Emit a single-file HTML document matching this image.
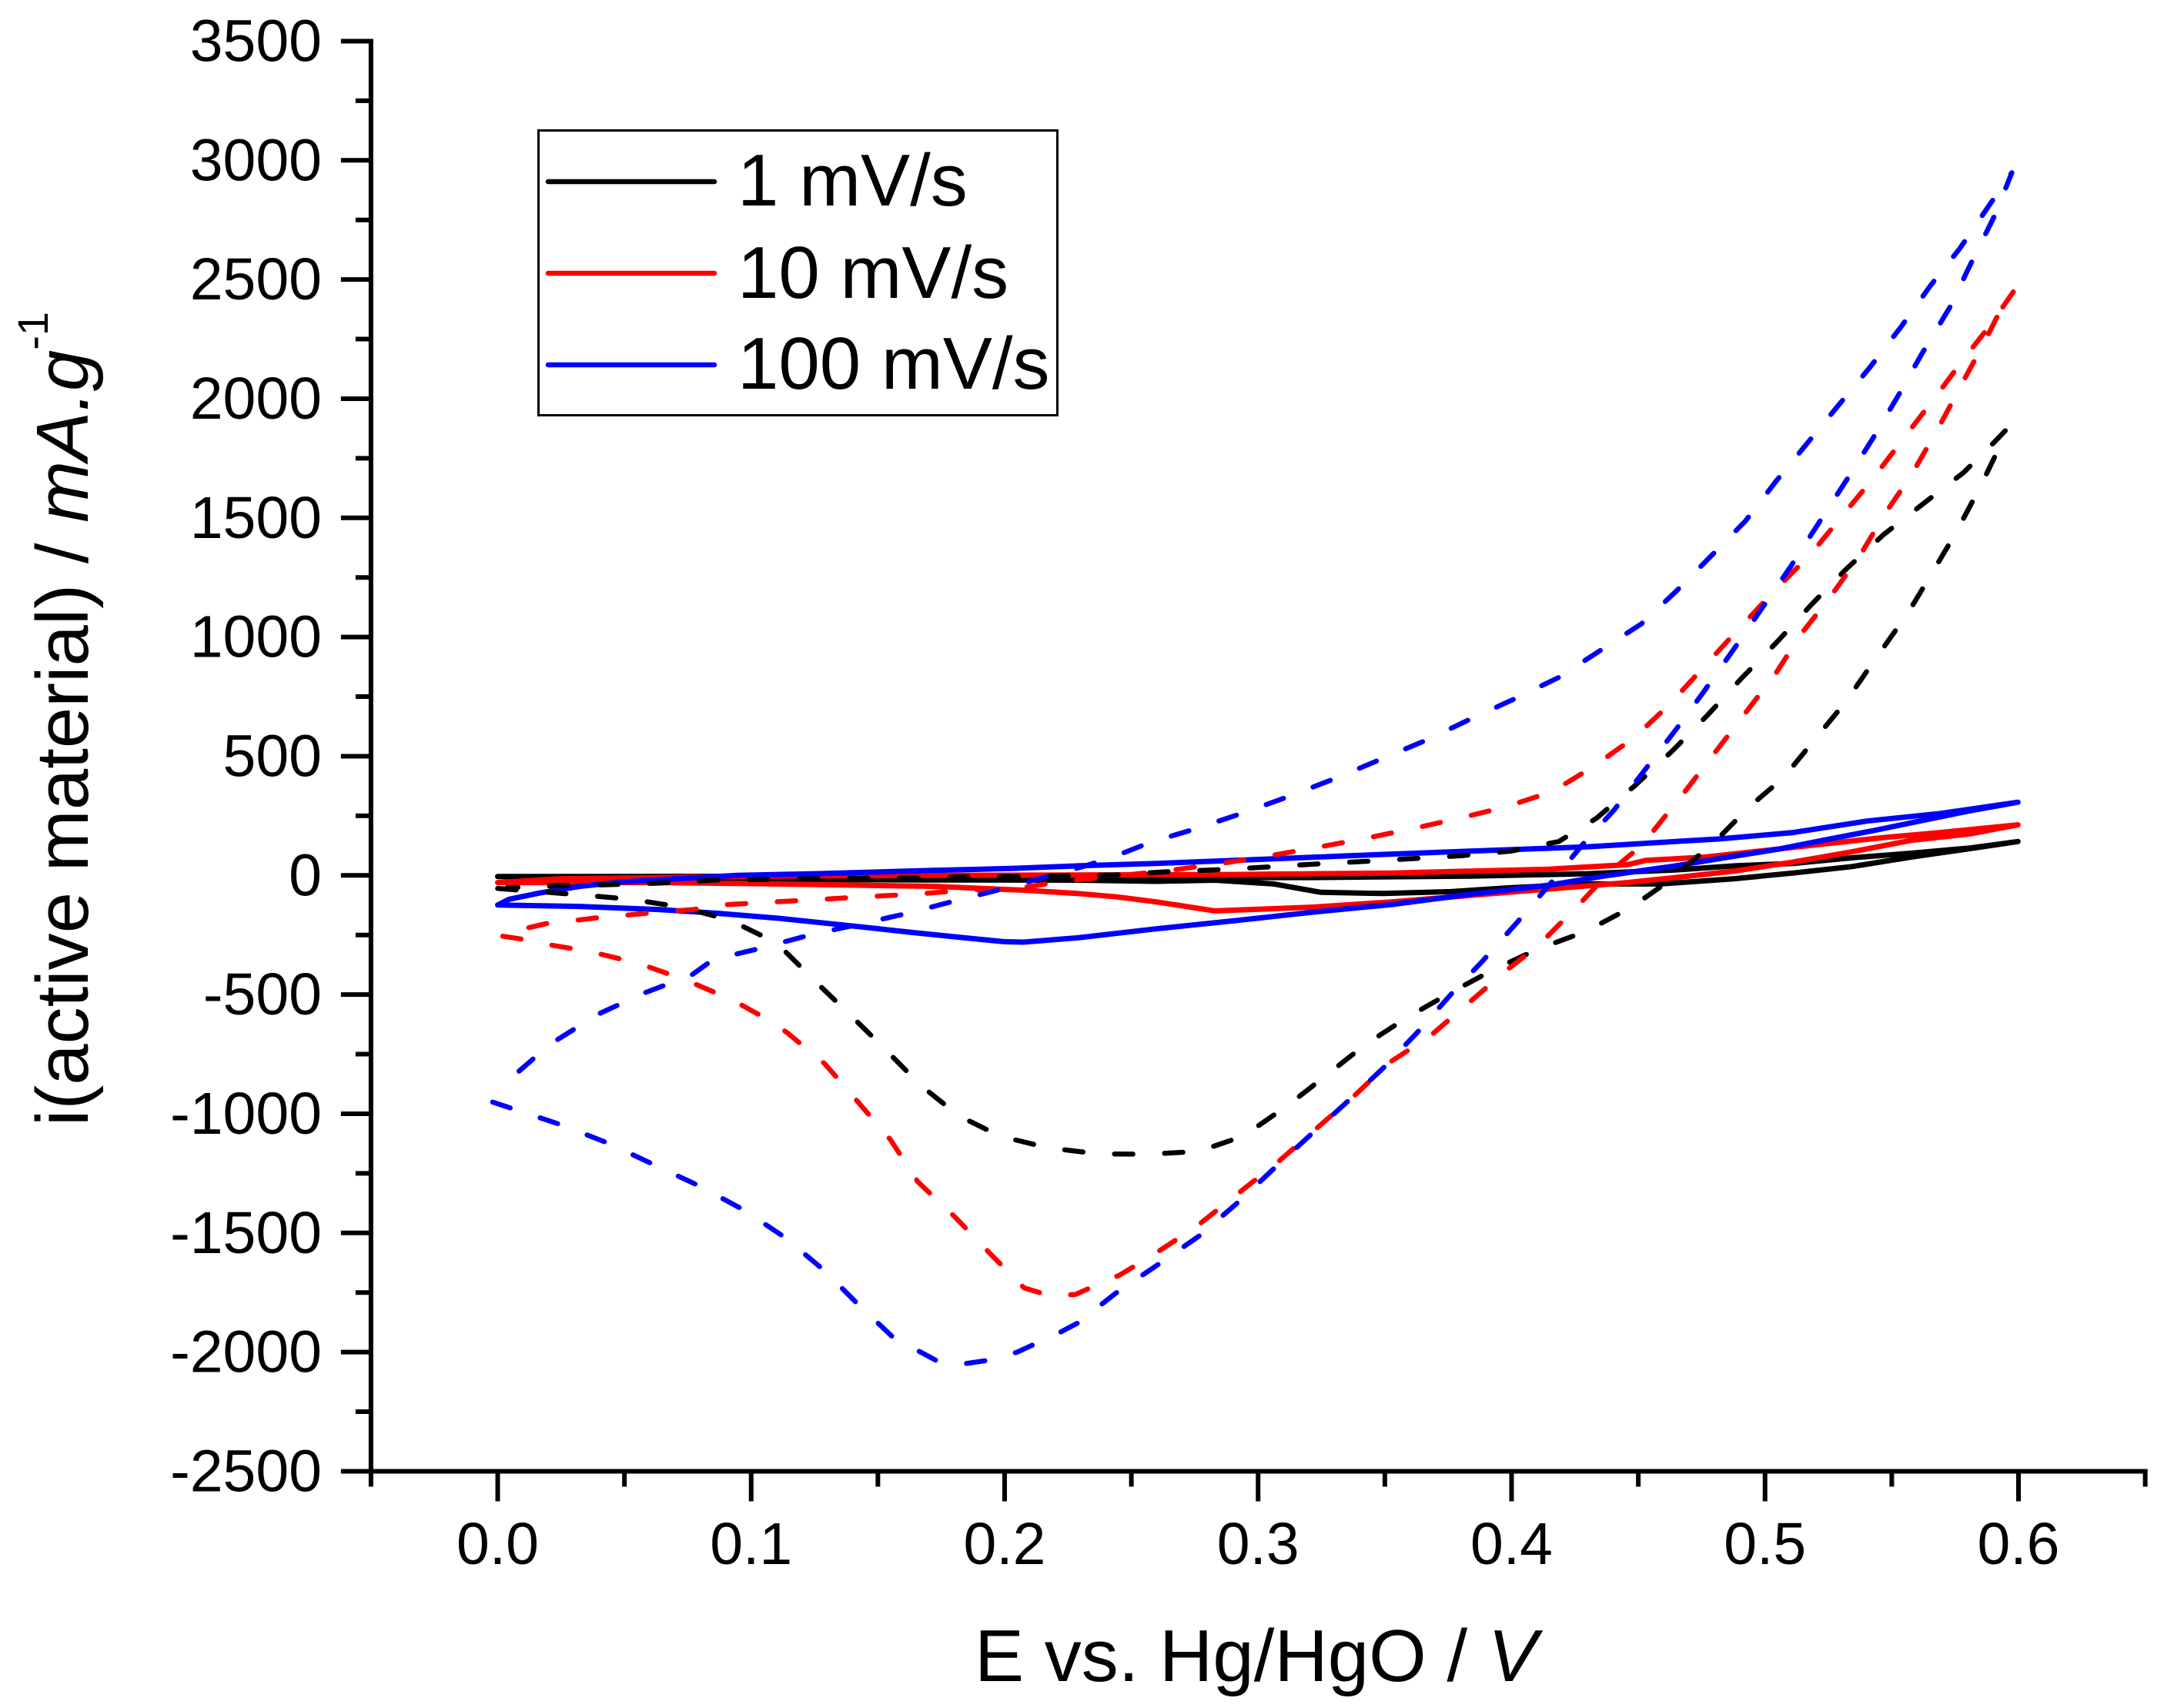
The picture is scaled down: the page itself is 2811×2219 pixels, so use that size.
<!DOCTYPE html>
<html lang="en">
<head>
<meta charset="utf-8">
<title>Cyclic voltammetry chart</title>
<style>
html,body{margin:0;padding:0;background:#fff;}
svg{display:block;}
text{font-family:"Liberation Sans",Arial,sans-serif;fill:#000;}
</style>
</head>
<body>
<svg id="chart" xmlns="http://www.w3.org/2000/svg" width="2811" height="2219" viewBox="0 0 2811 2219">
  <rect x="0" y="0" width="2811" height="2219" fill="#fff"/>
  <g id="series"></g>
  <g id="axes"></g>
  <text x="1266" y="2184" font-size="96">E vs. Hg/HgO / <tspan font-style="italic">V</tspan></text>
  <text transform="translate(114 1463) rotate(-90)" font-size="96">i(active material) / <tspan font-style="italic">mA.g</tspan><tspan font-size="56" dy="-52">-1</tspan></text>
  <g>
    <rect x="699.5" y="169.5" width="674" height="370" fill="#fff" stroke="#000" stroke-width="3"/>
    <line x1="712" y1="236" x2="928" y2="236" stroke="#000" stroke-width="6.5" stroke-linecap="round"/>
    <text x="958" y="267" font-size="96">1 mV/s</text>
    <line x1="712" y1="355" x2="928" y2="355" stroke="#f00" stroke-width="6.5" stroke-linecap="round"/>
    <text x="958" y="387" font-size="96">10 mV/s</text>
    <line x1="712" y1="474" x2="928" y2="474" stroke="#00f" stroke-width="6.5" stroke-linecap="round"/>
    <text x="958" y="505" font-size="96">100 mV/s</text>
  </g>
</svg>
<script>
const xMajorTicks = ["0.0","0.1","0.2","0.3","0.4","0.5","0.6"];
const xMinorTicks = [-0.05,0.05,0.15,0.25,0.35,0.45,0.55,0.65];
const yMajorTicks = [3500,3000,2500,2000,1500,1000,500,0,-500,-1000,-1500,-2000,-2500];
const yMinorTicks = [3250,2750,2250,1750,1250,750,250,-250,-750,-1250,-1750,-2250];

const solid1 = [[0,-5],[0.05,-5],[0.11,-3],[0.172,-4],[0.2288,-8],[0.2598,-9],[0.3217,-9],[0.3837,-3],[0.43,7],[0.4646,23],[0.488,40],[0.5111,50],[0.5344,74],[0.5576,93],[0.5808,115],[0.5998,142],[0.5808,112],[0.5576,77],[0.5344,37],[0.5111,10],[0.488,-14],[0.4588,-36],[0.4302,-36],[0.3992,-52],[0.376,-68],[0.3496,-76],[0.3248,-71],[0.3062,-36],[0.283,-20],[0.2598,-25],[0.2288,-20],[0.172,-19],[0.11,-17],[0.05,-12],[0,-5]];
const solid10 = [[0,-30],[0.0246,-14],[0.0634,-9],[0.11,-3],[0.172,0],[0.2288,2],[0.2908,4],[0.3527,10],[0.4147,26],[0.4457,45],[0.453,63],[0.4763,77],[0.4995,104],[0.5227,131],[0.546,158],[0.5692,180],[0.5998,212],[0.5808,174],[0.5576,147],[0.5344,99],[0.5111,56],[0.4879,18],[0.4646,-9],[0.4457,-30],[0.4147,-57],[0.3837,-84],[0.3527,-111],[0.3217,-133],[0.283,-149],[0.2598,-111],[0.2443,-90],[0.2288,-76],[0.2074,-62],[0.1718,-46],[0.11,-36],[0.0634,-30],[0,-30]];
const solid100 = [[0,-124],[0.0045,-100],[0.0169,-73],[0.0324,-46],[0.0479,-28],[0.0711,-14],[0.0944,0],[0.1253,7],[0.1718,21],[0.2028,29],[0.2288,40],[0.2598,50],[0.2908,63],[0.3372,83],[0.3837,102],[0.4302,120],[0.4646,142],[0.4821,153],[0.5111,180],[0.5402,228],[0.5692,260],[0.5998,307],[0.5808,271],[0.5634,233],[0.5437,190],[0.5227,147],[0.5053,110],[0.4856,77],[0.4646,40],[0.4364,-3],[0.4147,-41],[0.3837,-79],[0.3527,-122],[0.3217,-154],[0.2908,-190],[0.2598,-224],[0.2288,-262],[0.2074,-280],[0.1997,-278],[0.1873,-265],[0.1641,-240],[0.1409,-213],[0.1099,-179],[0.0866,-159],[0.0634,-143],[0.0324,-130],[0,-124]];

const dashed1 = [[0,-55],[0.0138,-66],[0.0332,-82],[0.0525,-100],[0.0719,-132],[0.0913,-186],[0.11,-283],[0.1264,-456],[0.1399,-594],[0.1521,-721],[0.167,-882],[0.182,-1009],[0.1982,-1094],[0.2172,-1143],[0.237,-1168],[0.2561,-1170],[0.2766,-1158],[0.2943,-1093],[0.3121,-962],[0.3271,-837],[0.3421,-711],[0.3585,-598],[0.3749,-498],[0.3926,-397],[0.4104,-309],[0.4295,-234],[0.4472,-134],[0.4608,-33],[0.48,139],[0.4936,286],[0.5073,410],[0.5195,569],[0.5318,728],[0.5428,897],[0.5564,1101],[0.566,1271],[0.5755,1441],[0.5851,1634],[0.5933,1815],[0.5952,1870],[0.5892,1804],[0.5783,1690],[0.5632,1566],[0.5468,1430],[0.5318,1283],[0.5182,1135],[0.5045,977],[0.4909,829],[0.4772,671],[0.4636,524],[0.4486,376],[0.4335,240],[0.4186,142],[0.3999,102],[0.3806,83],[0.3605,70],[0.3411,58],[0.3217,47],[0.3019,34],[0.2822,23],[0.2629,15],[0.2435,2],[0.2044,-5],[0.1851,-6],[0.1648,-10],[0.1447,-12],[0.1253,-14],[0.1059,-17],[0.0866,-19],[0.0625,-33],[0.0432,-39],[0.0239,-43],[0.0037,-52]];
const dashed10 = [[0.002,-255],[0.0122,-272],[0.0169,-285],[0.0362,-319],[0.0556,-369],[0.0742,-439],[0.0927,-523],[0.1068,-606],[0.1141,-659],[0.129,-790],[0.1413,-940],[0.1549,-1108],[0.1657,-1285],[0.1806,-1435],[0.1941,-1585],[0.2077,-1731],[0.2185,-1765],[0.228,-1758],[0.237,-1715],[0.2452,-1678],[0.2588,-1590],[0.2752,-1477],[0.2916,-1339],[0.308,-1201],[0.323,-1062],[0.338,-924],[0.3517,-786],[0.368,-673],[0.3817,-548],[0.398,-398],[0.4103,-297],[0.4267,-121],[0.439,17],[0.4513,125],[0.4677,342],[0.48,512],[0.4923,682],[0.5045,852],[0.5141,1011],[0.525,1158],[0.5373,1339],[0.5468,1509],[0.5577,1679],[0.5687,1883],[0.5783,2075],[0.5864,2234],[0.596,2438],[0.598,2449],[0.5892,2313],[0.5783,2166],[0.5673,2008],[0.555,1838],[0.5428,1668],[0.5305,1509],[0.5182,1350],[0.5045,1203],[0.4895,1033],[0.4759,875],[0.4622,716],[0.4486,580],[0.4322,456],[0.4162,352],[0.3976,287],[0.379,239],[0.3597,193],[0.3403,151],[0.321,113],[0.3016,77],[0.2822,45],[0.2629,18],[0.2435,-3],[0.2229,-25],[0.2036,-57],[0.1842,-62],[0.1648,-79],[0.1455,-89],[0.1253,-102],[0.1059,-113],[0.0866,-125],[0.0773,-143],[0.0587,-159],[0.0393,-178],[0.0192,-202],[0.0037,-240]];
const dashed100 = [[-0.002,-951],[0.0255,-1048],[0.0437,-1124],[0.0613,-1212],[0.0797,-1304],[0.0973,-1405],[0.1136,-1521],[0.129,-1659],[0.1426,-1804],[0.156,-1938],[0.174,-2041],[0.1847,-2048],[0.193,-2035],[0.205,-2000],[0.2213,-1920],[0.2288,-1878],[0.2438,-1753],[0.2602,-1635],[0.2766,-1514],[0.2916,-1376],[0.3066,-1226],[0.3202,-1093],[0.3339,-962],[0.349,-812],[0.3626,-661],[0.3762,-498],[0.3885,-360],[0.4022,-197],[0.4144,-46],[0.4281,130],[0.4404,274],[0.4527,444],[0.465,614],[0.476,773],[0.488,954],[0.499,1124],[0.51,1294],[0.521,1475],[0.532,1656],[0.5428,1838],[0.5523,2008],[0.5619,2189],[0.5728,2381],[0.581,2562],[0.5905,2766],[0.5974,2948],[0.5892,2823],[0.5769,2631],[0.5651,2472],[0.5537,2302],[0.5414,2132],[0.5291,1974],[0.5168,1815],[0.5045,1656],[0.4922,1486],[0.4786,1339],[0.4649,1192],[0.4513,1056],[0.4349,943],[0.4185,830],[0.4008,739],[0.3844,659],[0.3667,569],[0.349,490],[0.3312,410],[0.312,331],[0.2943,263],[0.2752,195],[0.2575,139],[0.2427,77],[0.2319,40],[0.2229,13],[0.2044,-41],[0.195,-68],[0.181,-105],[0.1618,-159],[0.146,-197],[0.1228,-251],[0.104,-305],[0.085,-353],[0.0765,-418],[0.0579,-493],[0.0393,-584],[0.0206,-709],[0.0043,-859]];

const NS = 'http://www.w3.org/2000/svg';
const xScale = function (v) { return 646.5 + v * 3292.5; };
const yScale = function (v) { return 1137.3 - v * 0.30967; };
const axisLeft = xScale(-0.05);
const axisRight = xScale(0.65);
const axisTop = yScale(3500);
const axisBottom = yScale(-2500);
const seriesLayer = document.getElementById('series');
const axesLayer = document.getElementById('axes');

function makeLine(x1, y1, x2, y2, w) {
  const l = document.createElementNS(NS, 'line');
  l.setAttribute('x1', x1);
  l.setAttribute('y1', y1);
  l.setAttribute('x2', x2);
  l.setAttribute('y2', y2);
  l.setAttribute('stroke', '#000');
  l.setAttribute('stroke-width', w);
  return l;
}

function drawSeries(points, color, width, dash, name) {
  const p = document.createElementNS(NS, 'path');
  let d = '';
  points.forEach(function (pt, idx) {
    d += (idx ? 'L' : 'M') + xScale(pt[0]).toFixed(1) + ' ' + yScale(pt[1]).toFixed(1);
  });
  p.setAttribute('d', d);
  p.setAttribute('fill', 'none');
  p.setAttribute('stroke', color);
  p.setAttribute('stroke-width', width);
  p.setAttribute('stroke-linecap', 'round');
  p.setAttribute('stroke-linejoin', 'round');
  if (dash) p.setAttribute('stroke-dasharray', dash);
  
  
  seriesLayer.appendChild(p);
}

drawSeries(solid1, '#000', 7, null, 'curve-1-mv-solid');
drawSeries(solid10, '#f00', 7, null, 'curve-10-mv-solid');
drawSeries(solid100, '#00f', 7, null, 'curve-100-mv-solid');
drawSeries(dashed1, '#000', 6.5, '24 41', 'curve-1-mv-dashed');
drawSeries(dashed10, '#f00', 6.5, '24 41', 'curve-10-mv-dashed');
drawSeries(dashed100, '#00f', 6.5, '24 41', 'curve-100-mv-dashed');

const yAxisLine = makeLine(axisLeft, axisTop - 3, axisLeft, axisBottom + 3, 6);


axesLayer.appendChild(yAxisLine);

const xAxisLine = makeLine(axisLeft - 3, axisBottom, axisRight + 3, axisBottom, 6);


axesLayer.appendChild(xAxisLine);

yMajorTicks.forEach(function (v) {
  const y = yScale(v);
  const t = makeLine(axisLeft - 39, y, axisLeft, y, 6);
  
  
  axesLayer.appendChild(t);
  const label = document.createElementNS(NS, 'text');
  label.setAttribute('x', 418);
  label.setAttribute('y', y + 26);
  label.setAttribute('text-anchor', 'end');
  label.setAttribute('font-size', 77);
  label.textContent = String(v);
  
  
  axesLayer.appendChild(label);
});

yMinorTicks.forEach(function (v) {
  const y = yScale(v);
  const t = makeLine(axisLeft - 20, y, axisLeft, y, 6);
  
  
  axesLayer.appendChild(t);
});

xMajorTicks.forEach(function (s) {
  const x = xScale(parseFloat(s));
  const t = makeLine(x, axisBottom, x, axisBottom + 39, 6);
  
  
  axesLayer.appendChild(t);
  const label = document.createElementNS(NS, 'text');
  label.setAttribute('x', x);
  label.setAttribute('y', 2032);
  label.setAttribute('text-anchor', 'middle');
  label.setAttribute('font-size', 77);
  label.textContent = s;
  
  
  axesLayer.appendChild(label);
});

xMinorTicks.forEach(function (v) {
  const x = xScale(v);
  const t = makeLine(x, axisBottom, x, axisBottom + 20, 6);
  
  
  axesLayer.appendChild(t);
});
</script>
</body>
</html>
